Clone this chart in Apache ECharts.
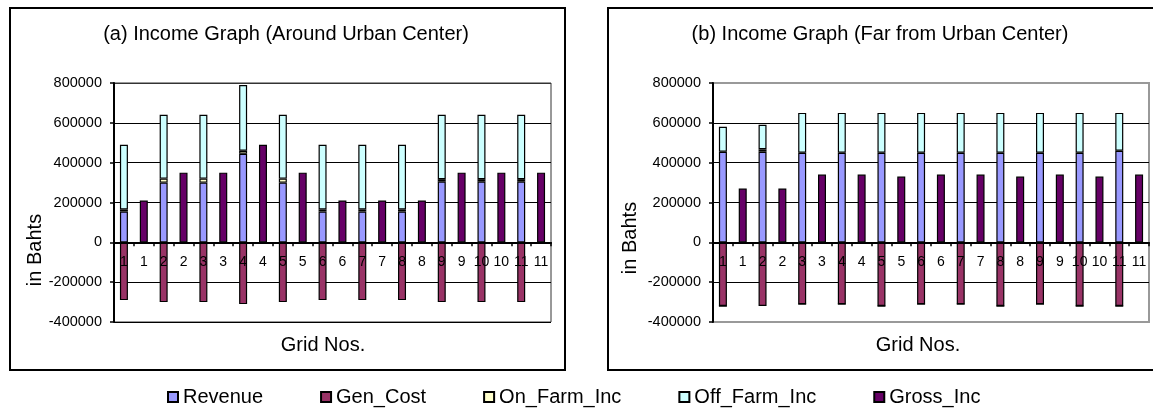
<!DOCTYPE html>
<html>
<head>
<meta charset="utf-8">
<title>Income Graph</title>
<script src="https://cdn.jsdelivr.net/npm/echarts@6/dist/echarts.min.js"></script>
<style>
html, body { margin: 0; padding: 0; background: #fff; }
#chart { width: 1153px; height: 409px; }
</style>
</head>
<body>
<div id="chart"></div>
<script>
// grid numbers, each shows up twice on the axis (stacked bar + gross bar)
const gridNos = ['1', '2', '3', '4', '5', '6', '7', '8', '9', '10', '11'];
const seriesNames = ['Revenue', 'Gen_Cost', 'On_Farm_Inc', 'Off_Farm_Inc', 'Gross_Inc'];

// (a) around urban center
const revenueA = [155000, 300000, 300000, 445000, 300000, 155000, 155000, 155000, 305000, 305000, 305000];
const genCostA = [-290000, -300000, -300000, -310000, -300000, -290000, -290000, -290000, -300000, -300000, -300000];
const onFarmA = [10000, 20000, 20000, 15000, 20000, 10000, 10000, 10000, 12000, 12000, 12000];
const offFarmA = [325000, 320000, 320000, 330000, 320000, 325000, 325000, 325000, 323000, 323000, 323000];
const grossA = [210000, 350000, 350000, 490000, 350000, 210000, 210000, 210000, 350000, 350000, 350000];

// (b) far from urban center
const revenueB = [455000, 455000, 450000, 450000, 450000, 450000, 450000, 450000, 450000, 450000, 460000];
const genCostB = [-320000, -320000, -310000, -310000, -320000, -310000, -310000, -320000, -310000, -320000, -320000];
const onFarmB = [0, 12000, 0, 0, 0, 0, 0, 0, 0, 0, 0];
const offFarmB = [125000, 123000, 200000, 200000, 200000, 200000, 200000, 200000, 200000, 200000, 190000];
const grossB = [270000, 270000, 340000, 340000, 330000, 340000, 340000, 330000, 340000, 330000, 340000];

const yMin = -400000;
const yMax = 800000;
const yStep = 200000;

const colors = {
    Revenue: '#9999ff',
    Gen_Cost: '#993366',
    On_Farm_Inc: '#ffffcc',
    Off_Farm_Inc: '#ccffff',
    Gross_Inc: '#660066'
};

const categories = [];
gridNos.forEach(g => { categories.push(g, g); });

// values go in the first slot of each pair, gross in the second
function firstSlot(vals) {
    const out = [];
    vals.forEach(v => { out.push(v, '-'); });
    return out;
}
function secondSlot(vals) {
    const out = [];
    vals.forEach(v => { out.push('-', v); });
    return out;
}

const font = "'Liberation Sans', Arial, sans-serif";
const plotTop = 83;
const plotHeight = 239;
// category axis sits on the zero line
const zeroOffset = -plotHeight * (0 - yMin) / (yMax - yMin);

function makeSeries(idx, rev, gen, onf, off, gross) {
    const base = {
        type: 'bar',
        xAxisIndex: idx,
        yAxisIndex: idx,
        barWidth: 8,
        barGap: '-100%'
    };
    const list = [
        ['Revenue', rev],
        ['Gen_Cost', gen],
        ['On_Farm_Inc', onf],
        ['Off_Farm_Inc', off]
    ];
    const out = list.map(([name, vals]) => Object.assign({}, base, {
        name: name,
        stack: 'inc' + idx,
        data: firstSlot(vals),
        itemStyle: { color: colors[name], borderColor: '#000', borderWidth: 1.2 }
    }));
    out.push(Object.assign({}, base, {
        name: 'Gross_Inc',
        stack: 'gross' + idx,
        data: secondSlot(gross),
        itemStyle: { color: colors.Gross_Inc, borderColor: '#000', borderWidth: 1.2 }
    }));
    return out;
}

function makeX(idx) {
    return {
        type: 'category',
        gridIndex: idx,
        data: categories,
        position: 'bottom',
        offset: zeroOffset,
        z: 3,
        axisLine: { onZero: false, lineStyle: { color: '#000', width: 2 } },
        axisTick: { show: true, length: 4, lineStyle: { color: '#000', width: 1.5 } },
        axisLabel: { interval: 0, margin: 13, fontSize: 14, color: '#000', fontFamily: font },
        splitLine: { show: false }
    };
}

function makeY(idx, lineColors) {
    return {
        type: 'value',
        gridIndex: idx,
        min: yMin,
        max: yMax,
        interval: yStep,
        axisLine: { show: true, onZero: false, lineStyle: { color: '#000', width: 2 } },
        axisTick: { show: true, length: 4, lineStyle: { color: '#000', width: 1.5 } },
        axisLabel: { margin: 12, fontSize: 14.5, color: '#000', fontFamily: font, formatter: v => String(v) },
        splitLine: { show: true, lineStyle: { color: lineColors, width: 1 } }
    };
}

const chart = echarts.init(document.getElementById('chart'));
const option = {
    backgroundColor: '#fff',
    animation: false,
    textStyle: { fontFamily: font },
    title: [
        {
            text: '(a) Income Graph (Around Urban Center)',
            left: 286, top: 24, textAlign: 'center', padding: 0,
            textStyle: { fontSize: 20, fontWeight: 'normal', color: '#000', fontFamily: font }
        },
        {
            text: '(b) Income Graph (Far from Urban Center)',
            left: 880, top: 24, textAlign: 'center', padding: 0,
            textStyle: { fontSize: 20, fontWeight: 'normal', color: '#000', fontFamily: font }
        }
    ],
    legend: {
        data: seriesNames,
        left: 162,
        top: 382,
        icon: 'rect',
        itemWidth: 10,
        itemHeight: 10,
        itemGap: 57,
        textStyle: { fontSize: 20, color: '#000', fontFamily: font }
    },
    grid: [
        { left: 114, top: plotTop, width: 437, height: plotHeight, show: true, backgroundColor: '#fff', borderColor: '#333', borderWidth: 1 },
        { left: 713, top: plotTop, width: 436, height: plotHeight, show: true, backgroundColor: '#fff', borderColor: '#999', borderWidth: 2 }
    ],
    xAxis: [makeX(0), makeX(1)],
    yAxis: [
        makeY(0, ['#000', '#000', '#000', '#000', '#000', '#000', '#333']),
        makeY(1, ['#999', '#000', '#000', '#000', '#000', '#000', '#999'])
    ],
    series: makeSeries(0, revenueA, genCostA, onFarmA, offFarmA, grossA)
        .concat(makeSeries(1, revenueB, genCostB, onFarmB, offFarmB, grossB)),
    graphic: [
        { type: 'rect', shape: { x: 10, y: 8, width: 555, height: 362 }, style: { fill: 'none', stroke: '#000', lineWidth: 2 }, z: -1 },
        { type: 'rect', shape: { x: 608, y: 8, width: 560, height: 362 }, style: { fill: 'none', stroke: '#000', lineWidth: 2 }, z: -1 },
        { type: 'text', x: 35, y: 250, rotation: Math.PI / 2,
          style: { text: 'in Bahts', font: '20px ' + font, fill: '#000', align: 'center', verticalAlign: 'middle', textAlign: 'center', textVerticalAlign: 'middle' } },
        { type: 'text', x: 630, y: 238, rotation: Math.PI / 2,
          style: { text: 'in Bahts', font: '20px ' + font, fill: '#000', align: 'center', verticalAlign: 'middle', textAlign: 'center', textVerticalAlign: 'middle' } },
        { type: 'text', x: 323, y: 345,
          style: { text: 'Grid Nos.', font: '20px ' + font, fill: '#000', align: 'center', verticalAlign: 'middle', textAlign: 'center', textVerticalAlign: 'middle' } },
        { type: 'text', x: 918, y: 345,
          style: { text: 'Grid Nos.', font: '20px ' + font, fill: '#000', align: 'center', verticalAlign: 'middle', textAlign: 'center', textVerticalAlign: 'middle' } }
    ]
};
chart.setOption(option);
</script>
</body>
</html>
